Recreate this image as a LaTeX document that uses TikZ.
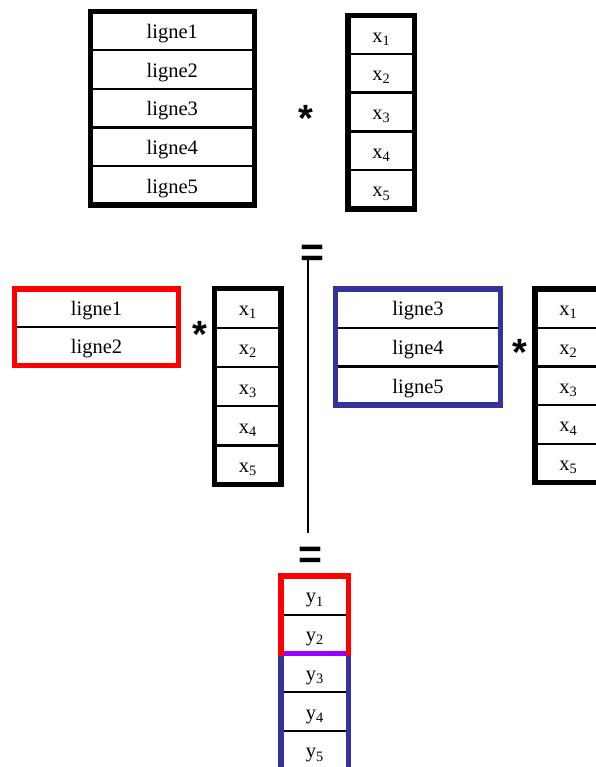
\documentclass[tikz,border=0pt]{standalone}
\usepackage{fontspec}
\setmainfont{Liberation Serif}
\setsansfont{Liberation Sans}
\usepackage{tikz}
\usetikzlibrary{positioning}
\definecolor{rouge}{RGB}{255,0,0}
\definecolor{bleu}{RGB}{51,51,153}
\definecolor{violet}{RGB}{153,0,255}

\begin{document}
\begin{tikzpicture}[x=1pt,y=-1pt,
        ligne/.style={draw,line width=2.4pt,outer sep=0pt,inner sep=0pt,minimum width=164pt,minimum height=38.7pt,text height=15pt,text depth=0pt,font=\fontsize{20.5}{24}\selectfont},
        case/.style={ligne,minimum width=66.5pt},
        cadre/.style={line width=5.5pt},
        etoile/.style={inner sep=0pt,anchor=north,font=\fontsize{38}{38}\sffamily\bfseries},
        egal/.style={inner sep=0pt,anchor=north,font=\fontsize{41}{41}\sffamily\bfseries}]
    \useasboundingbox (0,0) rectangle (595,767);

    % A * x
    \node[ligne] (A1) at (172.25,30.85) {ligne1}; \node[ligne,below=0pt of A1] (A2) {ligne2}; \node[ligne,below=0pt of A2] (A3) {ligne3};
    \node[ligne,below=0pt of A3] (A4) {ligne4}; \node[ligne,below=0pt of A4] (A5) {ligne5};
    \draw[cadre] (A1.north west) rectangle (A5.south east);
    \node[etoile] (s1) at (306,105) {*};
    \node[case] (X1) at (381.25,34.65) {x\textsubscript{1}}; \node[case,below=0pt of X1] (X2) {x\textsubscript{2}}; \node[case,below=0pt of X2] (X3) {x\textsubscript{3}};
    \node[case,below=0pt of X3] (X4) {x\textsubscript{4}}; \node[case,below=0pt of X4] (X5) {x\textsubscript{5}};
    \draw[cadre] (X1.north west) rectangle (X5.south east);

    \node[egal] (e1) at (312.5,245) {=};
    \node[egal] (e2) at (310.7,546.7) {=};
    \draw[line width=2.2pt] ([xshift=-4.5pt,yshift=7.5pt]e1.south) -- ([xshift=-2.7pt,yshift=13.5pt]e2.north);

    % bloc rouge
    \node[ligne,minimum height=38.25pt] (R1) at (96.5,308.1) {ligne1}; \node[ligne,minimum height=38.25pt,below=0pt of R1] (R2) {ligne2};
    \draw[cadre,color=rouge] (R1.north west) rectangle (R2.south east);
    \node[etoile] (s2) at (200,321) {*};
    \begin{scope}[case/.append style={minimum height=39.2pt}]
        \node[case] (P1) at (247.75,308.1) {x\textsubscript{1}}; \node[case,below=0pt of P1] (P2) {x\textsubscript{2}}; \node[case,below=0pt of P2] (P3) {x\textsubscript{3}};
        \node[case,below=0pt of P3] (P4) {x\textsubscript{4}}; \node[case,below=0pt of P4] (P5) {x\textsubscript{5}};
        \draw[cadre] (P1.north west) rectangle (P5.south east);
    \end{scope}

    % bloc bleu
    \node[ligne,minimum width=165pt] (B1) at (418,308.35) {ligne3}; \node[ligne,minimum width=165pt,below=0pt of B1] (B2) {ligne4};
    \node[ligne,minimum width=165pt,below=0pt of B2] (B3) {ligne5};
    \draw[cadre,color=bleu] (B1.north west) rectangle (B3.south east);
    \node[etoile] (s3) at (520,339) {*};
    \node[case] (Q1) at (568.25,308.35) {x\textsubscript{1}}; \node[case,below=0pt of Q1] (Q2) {x\textsubscript{2}}; \node[case,below=0pt of Q2] (Q3) {x\textsubscript{3}};
    \node[case,below=0pt of Q3] (Q4) {x\textsubscript{4}}; \node[case,below=0pt of Q4] (Q5) {x\textsubscript{5}};
    \draw[cadre] (Q1.north west) rectangle (Q5.south east);

    % resultat
    \node[case,minimum width=67.5pt,minimum height=38.75pt] (Y1) at (314.75,595.4) {y\textsubscript{1}};
    \node[case,minimum width=67.5pt,minimum height=38.75pt,below=0pt of Y1] (Y2) {y\textsubscript{2}};
    \node[case,minimum width=67.5pt,minimum height=38.75pt,below=0pt of Y2] (Y3) {y\textsubscript{3}};
    \node[case,minimum width=67.5pt,minimum height=38.75pt,below=0pt of Y3] (Y4) {y\textsubscript{4}};
    \node[case,minimum width=67.5pt,minimum height=38.75pt,below=0pt of Y4] (Y5) {y\textsubscript{5}};
    \draw[cadre,color=bleu] (Y3.north west) rectangle (Y5.south east);
    \draw[cadre,color=rouge] (Y1.north west) rectangle (Y2.south east);
    \draw[cadre,color=violet] ([xshift=2.75pt]Y2.south west) -- ([xshift=-2.75pt]Y2.south east);
\end{tikzpicture}
\end{document}
